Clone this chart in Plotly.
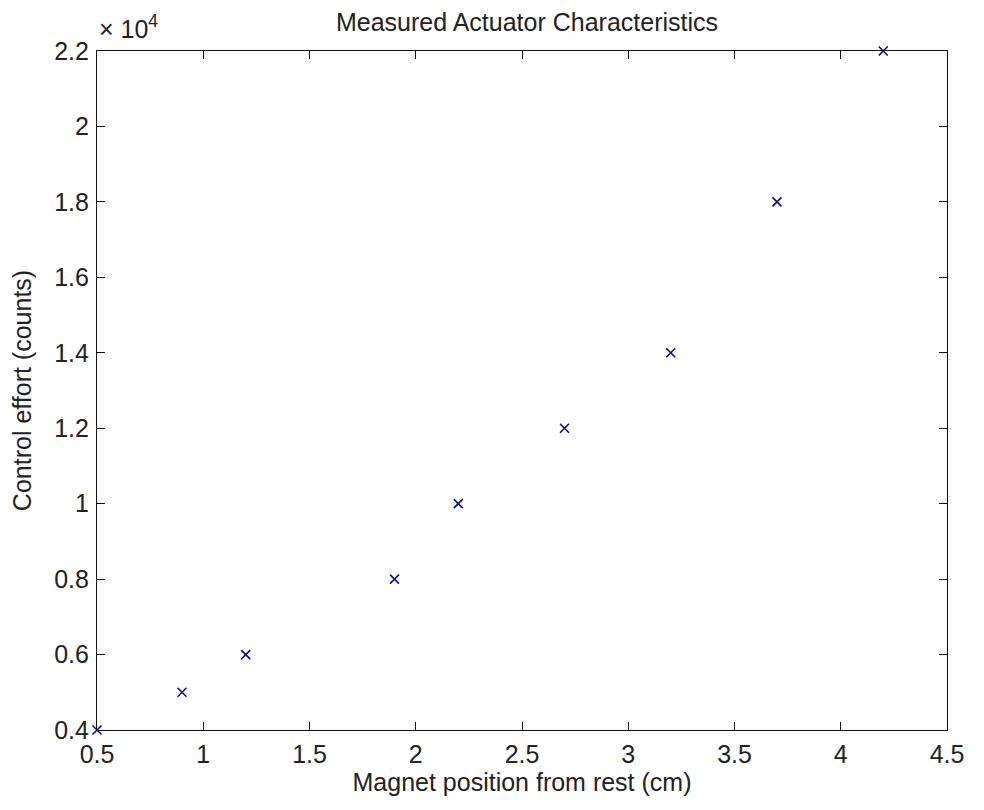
import plotly.graph_objects as go

# Data
position_cm = [0.5, 0.9, 1.2, 1.9, 2.2, 2.7, 3.2, 3.7, 4.2]
control_counts = [4000, 5000, 6000, 8000, 10000, 12000, 14000, 18000, 22000]

x_ticks = [0.5, 1, 1.5, 2, 2.5, 3, 3.5, 4, 4.5]
x_ticktext = ["0.5", "1", "1.5", "2", "2.5", "3", "3.5", "4", "4.5"]
y_ticks = [4000, 6000, 8000, 10000, 12000, 14000, 16000, 18000, 20000, 22000]
y_ticktext = ["0.4", "0.6", "0.8", "1", "1.2", "1.4", "1.6", "1.8", "2", "2.2"]

FONT = "Liberation Sans, Arial, sans-serif"
TXT = "#222222"
FS = 25

# page body has an 8px margin; size figure so page is exactly 984x810
W, H = 968, 794

fig = go.Figure()
fig.add_trace(go.Scatter(
    x=position_cm, y=control_counts, mode="markers",
    marker=dict(symbol="x-thin", size=9, line=dict(width=1.6, color="#0a0a90"), color="#0a0a90"),
    cliponaxis=False, showlegend=False,
))

axis_common = dict(
    showline=True, linecolor="#111111", linewidth=1.2, mirror="allticks",
    ticks="inside", ticklen=8, tickwidth=1.2, tickcolor="#111111",
    showgrid=False, zeroline=False, ticklabelstandoff=2,
    tickfont=dict(family=FONT, size=FS, color=TXT),
)

fig.update_layout(
    width=W, height=H,
    margin=dict(l=89, r=19, t=43, b=69),
    paper_bgcolor="white", plot_bgcolor="white",
    title=dict(text="Measured Actuator Characteristics", x=(527 - 8) / W, xanchor="center",
               y=1 - (22 - 8) / H, yanchor="middle", font=dict(family=FONT, size=FS, color=TXT)),
    xaxis=dict(range=[0.5, 4.5], tickvals=x_ticks, ticktext=x_ticktext,
               title=dict(text="Magnet position from rest (cm)", standoff=4,
                          font=dict(family=FONT, size=FS, color=TXT)),
               **axis_common),
    yaxis=dict(range=[4000, 22000], tickvals=y_ticks, ticktext=y_ticktext,
               title=dict(text="Control effort (counts)", standoff=16,
                          font=dict(family=FONT, size=FS, color=TXT)),
               **axis_common),
)

fig.add_annotation(xref="paper", yref="paper", x=0, y=1, xanchor="left", yanchor="bottom",
                   yshift=6, text="× 10<sup>4</sup>", showarrow=False,
                   font=dict(family=FONT, size=FS, color=TXT))

fig.write_html("out.html", config={"displayModeBar": False})
